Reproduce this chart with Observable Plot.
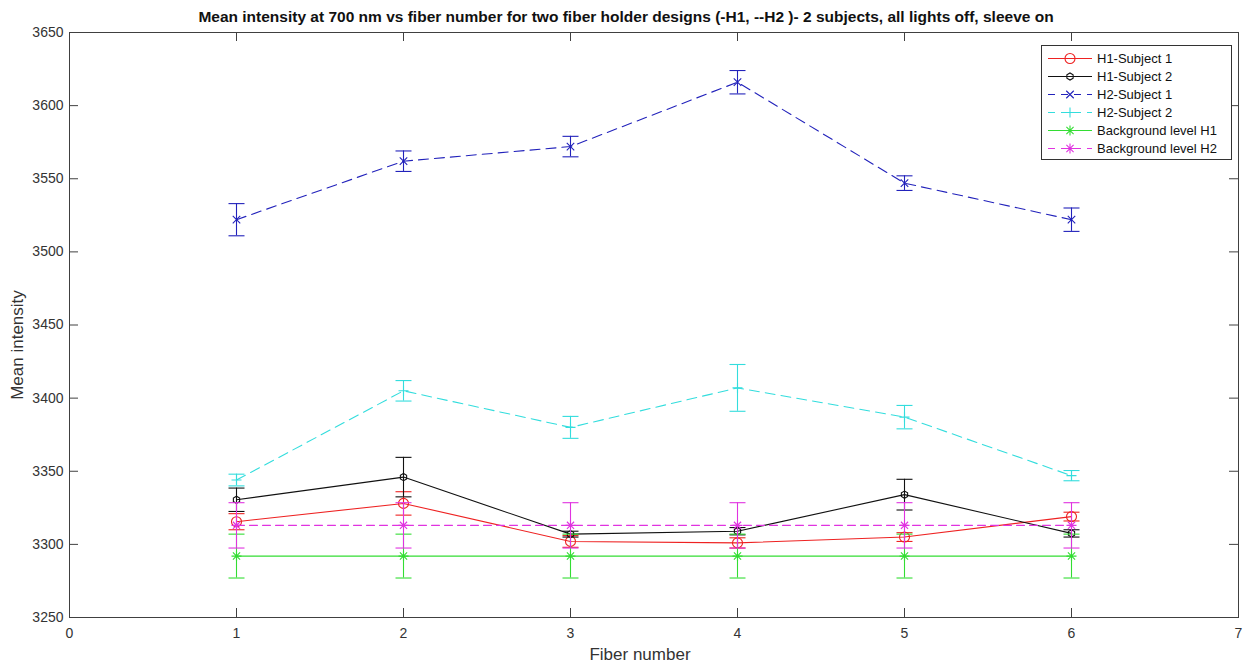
<!DOCTYPE html>
<html>
<head>
<meta charset="utf-8">
<script src="https://cdn.jsdelivr.net/npm/d3@7"></script>
<script src="https://cdn.jsdelivr.net/npm/@observablehq/plot@0.6"></script>
<style>
  html, body { margin: 0; padding: 0; background: #fff; }
  #wrap { position: relative; width: 1252px; height: 664px; overflow: hidden; font-family: "Liberation Sans", Arial, sans-serif; }
  .title { position: absolute; left: 626px; top: 17px; transform: translate(-50%, -50%); white-space: nowrap; font-weight: bold; font-size: 15.5px; color: #111; }
  .xlabel { position: absolute; left: 640px; top: 655px; transform: translate(-50%, -50%); white-space: nowrap; font-size: 17px; color: #333; }
  .ylabel { position: absolute; left: 18px; top: 345px; transform: translate(-50%, -50%) rotate(-90deg); white-space: nowrap; font-size: 17px; color: #333; }
  .legend { position: absolute; left: 1041px; top: 45px; width: 191px; height: 115px; box-sizing: border-box; border: 1px solid #333; background: #fff; }
</style>
</head>
<body>
<div id="wrap"></div>
<script>
// ---------- data ----------
const fibers = [1, 2, 3, 4, 5, 6];
const xTicks = [0, 1, 2, 3, 4, 5, 6, 7];
const yTicks = [3250, 3300, 3350, 3400, 3450, 3500, 3550, 3600, 3650];

const seriesNames = ["H1-Subject 1", "H1-Subject 2", "H2-Subject 1", "H2-Subject 2", "Background level H1", "Background level H2"];

const h1s1Mean = [3315.5, 3328, 3302, 3301, 3305, 3319];
const h1s1Err  = [5.5, 8, 4, 3.5, 3, 3];
const h1s2Mean = [3330.5, 3346, 3307, 3309, 3334, 3307.5];
const h1s2Err  = [8, 13.5, 2, 2.5, 10.5, 2.5];
const h2s1Mean = [3522, 3562, 3572, 3616, 3547, 3522];
const h2s1Err  = [11, 7, 7, 8, 5, 8];
const h2s2Mean = [3344, 3405, 3380, 3407, 3387, 3347];
const h2s2Err  = [4, 7, 7.5, 16, 8, 3.5];
const bgH1Mean = [3292, 3292, 3292, 3292, 3292, 3292];
const bgH1Err  = [15, 15, 15, 15, 15, 15];
const bgH2Mean = [3313, 3313, 3313, 3313, 3313, 3313];
const bgH2Err  = [15.5, 15.5, 15.5, 15.5, 15.5, 15.5];

const title = "Mean intensity at 700 nm vs fiber number for two fiber holder designs (-H1, --H2 )- 2 subjects, all lights off, sleeve on";
const xLabel = "Fiber number";
const yLabel = "Mean intensity";

// ---------- symbols ----------
const rad = size => Math.sqrt(size / Math.PI);
const symCircle = { draw(c, s) { const r = rad(s); c.moveTo(r, 0); c.arc(0, 0, r, 0, 2 * Math.PI); } };
const symHex = { draw(c, s) { const r = rad(s); for (let i = 0; i < 6; i++) { const a = Math.PI / 6 + i * Math.PI / 3; const x = r * Math.cos(a), y = r * Math.sin(a); if (i === 0) c.moveTo(x, y); else c.lineTo(x, y); } c.closePath(); } };
const symTimes = { draw(c, s) { const r = rad(s) * 0.75; c.moveTo(-r, -r); c.lineTo(r, r); c.moveTo(-r, r); c.lineTo(r, -r); } };
const symPlus = { draw(c, s) { const r = rad(s); c.moveTo(-r, 0); c.lineTo(r, 0); c.moveTo(0, -r); c.lineTo(0, r); } };
const symStar = { draw(c, s) { const r = rad(s); const q = r * 0.72; c.moveTo(-r, 0); c.lineTo(r, 0); c.moveTo(0, -r); c.lineTo(0, r); c.moveTo(-q, -q); c.lineTo(q, q); c.moveTo(-q, q); c.lineTo(q, -q); } };
const symCap = { draw(c, s) { const r = rad(s); c.moveTo(-r, 0); c.lineTo(r, 0); } };

const styles = [
  { name: seriesNames[0], mean: h1s1Mean, err: h1s1Err, color: "#ee2222", dash: null, sym: symCircle, r: 5 },
  { name: seriesNames[1], mean: h1s2Mean, err: h1s2Err, color: "#111111", dash: null, sym: symHex, r: 3.6 },
  { name: seriesNames[2], mean: h2s1Mean, err: h2s1Err, color: "#2222bb", dash: "10,6", sym: symTimes, r: 5 },
  { name: seriesNames[3], mean: h2s2Mean, err: h2s2Err, color: "#33dddd", dash: "10,6", sym: symPlus, r: 5 },
  { name: seriesNames[4], mean: bgH1Mean, err: bgH1Err, color: "#33dd33", dash: null, sym: symStar, r: 5 },
  { name: seriesNames[5], mean: bgH2Mean, err: bgH2Err, color: "#e033e0", dash: "8,5", sym: symStar, r: 5 }
];

// ---------- marks ----------
const W = 1252, H = 664, mT = 32, mL = 69, mR = 14, mB = 47;
const frameW = W - mL - mR, frameH = H - mT - mB, tickLen = 9;
const axisColor = "#404040";

const marks = [
  Plot.frame({ stroke: axisColor, strokeWidth: 1 }),
  Plot.tickX(xTicks, { x: d => d, stroke: axisColor, insetTop: frameH - tickLen }),
  Plot.tickX(xTicks, { x: d => d, stroke: axisColor, insetBottom: frameH - tickLen }),
  Plot.tickY(yTicks, { y: d => d, stroke: axisColor, insetRight: frameW - tickLen }),
  Plot.tickY(yTicks, { y: d => d, stroke: axisColor, insetLeft: frameW - tickLen }),
  Plot.axisX({ ticks: xTicks, tickSize: 0, tickPadding: 11, label: null, tickFormat: d => String(d) }),
  Plot.axisY({ ticks: yTicks, tickSize: 0, tickPadding: 6, label: null, tickFormat: d => String(d) })
];

for (const s of styles) {
  const rows = fibers.map((f, i) => ({ fiber: f, mean: s.mean[i], lo: s.mean[i] - s.err[i], hi: s.mean[i] + s.err[i] }));
  marks.push(
    Plot.line(rows, { x: "fiber", y: "mean", stroke: s.color, strokeWidth: 1.1, strokeDasharray: s.dash || undefined }),
    Plot.ruleX(rows, { x: "fiber", y1: "lo", y2: "hi", stroke: s.color, strokeWidth: 1.1 }),
    Plot.dot(rows, { x: "fiber", y: "lo", symbol: symCap, r: 8, stroke: s.color, fill: "none", strokeWidth: 1.1 }),
    Plot.dot(rows, { x: "fiber", y: "hi", symbol: symCap, r: 8, stroke: s.color, fill: "none", strokeWidth: 1.1 }),
    Plot.dot(rows, { x: "fiber", y: "mean", symbol: s.sym, r: s.r, stroke: s.color, fill: "none", strokeWidth: 1.1 })
  );
}

const chart = Plot.plot({
  width: W, height: H,
  marginTop: mT, marginLeft: mL, marginRight: mR, marginBottom: mB,
  x: { domain: [0, 7] },
  y: { domain: [3250, 3650] },
  style: { fontFamily: "'Liberation Sans', Arial, sans-serif", fontSize: "14px", color: "#333", background: "white", overflow: "visible" },
  marks
});

const wrap = document.getElementById("wrap");
wrap.appendChild(chart);

function addDiv(cls, text) {
  const d = document.createElement("div");
  d.className = cls;
  d.textContent = text;
  wrap.appendChild(d);
  return d;
}
addDiv("title", title);
addDiv("xlabel", xLabel);
addDiv("ylabel", yLabel);

// ---------- legend ----------
const leg = document.createElement("div");
leg.className = "legend";
wrap.appendChild(leg);
const lsvg = d3.select(leg).append("svg").attr("width", 189).attr("height", 113)
  .style("position", "absolute").style("left", "0px").style("top", "0px");
styles.forEach((s, i) => {
  const y = 12.5 + i * 18;
  lsvg.append("line").attr("x1", 6).attr("x2", 50).attr("y1", y).attr("y2", y)
    .attr("stroke", s.color).attr("stroke-width", 1.1)
    .attr("stroke-dasharray", s.dash ? "7,6" : null);
  lsvg.append("path").attr("d", d3.symbol(s.sym, s.r * s.r * Math.PI)())
    .attr("transform", `translate(28,${y})`)
    .attr("fill", s.dash ? "white" : "none").attr("stroke", s.color).attr("stroke-width", 1.1);
  lsvg.append("text").attr("x", 55).attr("y", y).attr("dy", "0.35em")
    .attr("font-family", "'Liberation Sans', Arial, sans-serif").attr("font-size", 13)
    .attr("fill", "#111").text(s.name);
});
</script>
</body>
</html>
